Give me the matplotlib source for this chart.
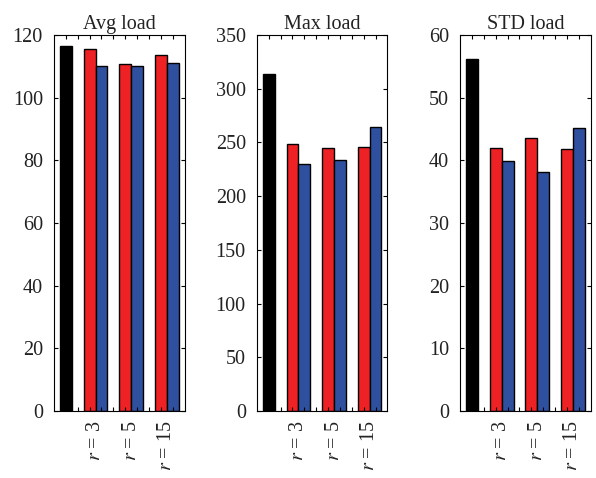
import matplotlib
matplotlib.use("Agg")
import matplotlib.pyplot as plt

plt.rcParams['font.family'] = ['Liberation Serif', 'DejaVu Serif']
plt.rcParams['mathtext.fontset'] = 'stix'
plt.rcParams['text.color'] = '#222222'
plt.rcParams['xtick.labelcolor'] = '#222222'
plt.rcParams['ytick.labelcolor'] = '#222222'

titles = ["Avg load", "Max load", "STD load"]
group_labels = ["$r$ = 3", "$r$ = 5", "$r$ = 15"]

# baseline (black) and red/blue pairs for r = 3, 5, 15
avg_base = 116.3
avg_red = [115.6, 110.6, 113.6]
avg_blue = [110.1, 110.2, 110.9]

max_base = 313.5
max_red = [248.8, 244.8, 245.6]
max_blue = [230.3, 233.6, 264.0]

std_base = 56.2
std_red = [42.0, 43.6, 41.8]
std_blue = [39.9, 38.1, 45.2]

ylims = [(0, 120), (0, 350), (0, 60)]
ysteps = [20, 50, 10]

bases = [avg_base, max_base, std_base]
reds = [avg_red, max_red, std_red]
blues = [avg_blue, max_blue, std_blue]

red_pos = [3, 6, 9]
blue_pos = [4, 7, 10]
label_pos = [3.5, 6.5, 9.5]

fig = plt.figure(figsize=(5.96, 4.78), dpi=100)
lefts = [0.0906, 0.431, 0.772]
width = 0.219
bottom = 0.140
height = 0.787

for i in range(3):
    ax = fig.add_axes([lefts[i], bottom, width, height])
    ax.bar([1], [bases[i]], width=1, color="black", edgecolor="black", linewidth=1)
    ax.bar(red_pos, reds[i], width=1, color="#ee2124", edgecolor="black", linewidth=1)
    ax.bar(blue_pos, blues[i], width=1, color="#2f4f9f", edgecolor="black", linewidth=1)
    ax.set_xlim(0, 11)
    ax.set_ylim(*ylims[i])
    ax.set_yticks(range(0, ylims[i][1] + 1, ysteps[i]))
    ax.set_xticks(range(1, 11))
    ax.set_xticklabels([])
    ax.set_xticks(label_pos, minor=True)
    ax.set_xticklabels(group_labels, minor=True, rotation=90, va="top")
    ax.tick_params(axis="x", which="minor", length=0, pad=7, labelsize=14.5)
    ax.tick_params(axis="both", which="major", direction="in", top=True, right=True,
                   length=3, labelsize=14.5)
    ax.tick_params(axis="y", pad=8)
    ax.set_title(titles[i], fontsize=14.5, pad=4)

plt.savefig("out.png", dpi=100)
